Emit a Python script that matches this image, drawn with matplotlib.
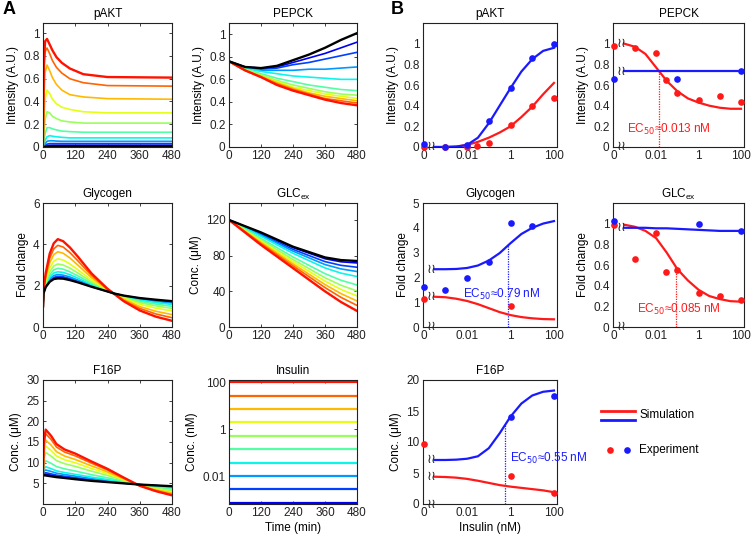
import numpy as np
import matplotlib
matplotlib.use('Agg')
import matplotlib.pyplot as plt
from matplotlib.lines import Line2D

plt.rcParams['font.family'] = ['Liberation Sans', 'DejaVu Sans']
plt.rcParams['font.size'] = 8.5

# ---------------- data ----------------
# insulin doses (nM), high -> low; the extra black curve in panel A is 0 nM
insulin_doses = [100, 26.8, 7.2, 1.93, 0.518, 0.139, 0.0373, 0.01, 0.00268, 0.00072]

# Panel A: time courses (rows: doses high->low, last row = 0 nM / black)
t_pakt = [0, 3, 8, 15, 25, 35, 50, 70, 100, 150, 240, 480]
pakt_A = [
    [0, 0.75, 0.93, 0.95, 0.90, 0.85, 0.79, 0.74, 0.69, 0.64, 0.615, 0.61],
    [0, 0.62, 0.84, 0.87, 0.82, 0.76, 0.70, 0.65, 0.60, 0.565, 0.54, 0.535],
    [0, 0.42, 0.66, 0.72, 0.67, 0.61, 0.55, 0.50, 0.46, 0.44, 0.425, 0.42],
    [0, 0.22, 0.42, 0.50, 0.47, 0.42, 0.38, 0.35, 0.33, 0.31, 0.30, 0.30],
    [0, 0.10, 0.24, 0.31, 0.30, 0.27, 0.25, 0.23, 0.22, 0.21, 0.21, 0.21],
    [0, 0.05, 0.12, 0.17, 0.17, 0.16, 0.15, 0.14, 0.135, 0.13, 0.13, 0.13],
    [0, 0.025, 0.06, 0.09, 0.10, 0.095, 0.09, 0.085, 0.08, 0.08, 0.08, 0.08],
    [0, 0.012, 0.03, 0.05, 0.055, 0.055, 0.052, 0.05, 0.05, 0.05, 0.05, 0.05],
    [0, 0.006, 0.015, 0.025, 0.03, 0.03, 0.03, 0.03, 0.03, 0.03, 0.03, 0.03],
    [0, 0.003, 0.008, 0.012, 0.015, 0.016, 0.016, 0.016, 0.016, 0.016, 0.016, 0.016],
    [0, 0.001, 0.002, 0.003, 0.004, 0.005, 0.005, 0.005, 0.005, 0.005, 0.005, 0.005],
]

t_pepck = [0, 60, 120, 180, 240, 300, 360, 420, 480]
pepck_A = [
    [0.76, 0.68, 0.62, 0.55, 0.50, 0.46, 0.42, 0.39, 0.37],
    [0.76, 0.68, 0.62, 0.56, 0.51, 0.47, 0.43, 0.41, 0.39],
    [0.76, 0.68, 0.63, 0.57, 0.52, 0.48, 0.45, 0.43, 0.41],
    [0.76, 0.68, 0.63, 0.58, 0.53, 0.50, 0.47, 0.45, 0.43],
    [0.76, 0.69, 0.64, 0.59, 0.55, 0.52, 0.49, 0.47, 0.46],
    [0.76, 0.69, 0.65, 0.61, 0.58, 0.55, 0.53, 0.51, 0.50],
    [0.76, 0.70, 0.67, 0.65, 0.63, 0.62, 0.61, 0.60, 0.60],
    [0.76, 0.70, 0.68, 0.68, 0.68, 0.69, 0.69, 0.70, 0.71],
    [0.76, 0.71, 0.69, 0.70, 0.73, 0.75, 0.78, 0.81, 0.84],
    [0.76, 0.71, 0.70, 0.71, 0.75, 0.79, 0.83, 0.88, 0.93],
    [0.76, 0.71, 0.70, 0.72, 0.77, 0.82, 0.88, 0.95, 1.01],
]

t_glyc = [0, 2, 10, 25, 40, 55, 75, 100, 130, 180, 240, 265, 300, 360, 420, 480]
glyc_A = [
    [1.0, 1.80, 2.60, 3.55, 4.05, 4.25, 4.15, 3.85, 3.40, 2.60, 1.85, 1.60, 1.25, 0.80, 0.50, 0.30],
    [1.0, 1.77, 2.50, 3.33, 3.78, 3.95, 3.87, 3.60, 3.20, 2.50, 1.83, 1.60, 1.29, 0.90, 0.63, 0.45],
    [1.0, 1.74, 2.40, 3.11, 3.50, 3.64, 3.57, 3.34, 2.99, 2.39, 1.81, 1.61, 1.34, 0.99, 0.76, 0.60],
    [1.0, 1.71, 2.27, 2.86, 3.18, 3.30, 3.24, 3.05, 2.77, 2.28, 1.79, 1.61, 1.39, 1.10, 0.91, 0.78],
    [1.0, 1.69, 2.18, 2.68, 2.95, 3.05, 3.00, 2.85, 2.61, 2.19, 1.77, 1.61, 1.42, 1.18, 1.02, 0.90],
    [1.0, 1.67, 2.10, 2.53, 2.76, 2.84, 2.80, 2.67, 2.47, 2.12, 1.75, 1.61, 1.45, 1.24, 1.11, 1.00],
    [1.0, 1.66, 2.04, 2.41, 2.61, 2.67, 2.64, 2.53, 2.36, 2.06, 1.74, 1.62, 1.47, 1.30, 1.18, 1.09],
    [1.0, 1.65, 1.99, 2.32, 2.49, 2.54, 2.51, 2.42, 2.27, 2.02, 1.73, 1.62, 1.49, 1.34, 1.24, 1.16],
    [1.0, 1.64, 1.96, 2.25, 2.40, 2.45, 2.43, 2.35, 2.21, 1.98, 1.73, 1.62, 1.51, 1.37, 1.28, 1.20],
    [1.0, 1.63, 1.94, 2.21, 2.35, 2.39, 2.37, 2.30, 2.18, 1.96, 1.72, 1.62, 1.51, 1.39, 1.30, 1.23],
    [1.0, 1.63, 1.93, 2.19, 2.32, 2.35, 2.34, 2.27, 2.16, 1.95, 1.72, 1.62, 1.52, 1.40, 1.32, 1.25],
]

t_glc = [0, 60, 120, 180, 240, 300, 360, 420, 480]
glc_A = [
    [120, 106.0, 92.0, 79.0, 66.0, 53.0, 40.0, 28.0, 18.0],
    [120, 106.8, 93.5, 81.1, 68.6, 56.4, 44.2, 33.2, 24.2],
    [120, 107.4, 94.8, 82.8, 70.8, 59.2, 47.6, 37.4, 29.2],
    [120, 108.1, 96.2, 84.7, 73.2, 62.3, 51.4, 42.1, 34.8],
    [120, 108.8, 97.6, 86.6, 75.6, 65.4, 55.2, 46.8, 40.4],
    [120, 109.6, 99.3, 88.9, 78.5, 69.1, 59.8, 52.4, 47.1],
    [120, 110.8, 101.7, 92.1, 82.6, 74.4, 66.2, 60.4, 56.6],
    [120, 111.5, 103.1, 94.0, 85.0, 77.5, 70.0, 65.1, 62.2],
    [120, 112.1, 104.3, 95.6, 87.0, 80.1, 73.3, 69.1, 67.0],
    [120, 112.7, 105.4, 97.2, 89.0, 82.8, 76.5, 73.1, 71.8],
    [120, 113.0, 106.0, 98.0, 90.0, 84.0, 78.0, 75.0, 74.0],
]

t_f16p = [0, 3, 10, 30, 50, 80, 120, 180, 240, 300, 360, 420, 480]
f16p_A = [
    [7.0, 15.00, 18.00, 16.50, 14.50, 13.20, 12.20, 10.30, 8.50, 6.40, 4.40, 3.10, 2.10],
    [7.0, 14.28, 17.00, 15.62, 13.78, 12.58, 11.64, 9.88, 8.21, 6.27, 4.43, 3.23, 2.30],
    [7.0, 13.15, 15.45, 14.25, 12.66, 11.61, 10.77, 9.22, 7.76, 6.08, 4.47, 3.42, 2.61],
    [7.0, 12.10, 14.00, 12.97, 11.62, 10.72, 9.97, 8.61, 7.35, 5.90, 4.51, 3.60, 2.89],
    [7.0, 10.98, 12.45, 11.60, 10.50, 9.75, 9.10, 7.95, 6.90, 5.70, 4.55, 3.80, 3.20],
    [7.0, 9.53, 10.45, 9.84, 9.06, 8.51, 7.98, 7.10, 6.32, 5.45, 4.60, 4.05, 3.60],
    [7.0, 8.48, 9.01, 8.56, 8.02, 7.61, 7.18, 6.49, 5.91, 5.27, 4.64, 4.23, 3.88],
    [7.0, 7.92, 8.23, 7.88, 7.46, 7.13, 6.74, 6.16, 5.68, 5.17, 4.66, 4.33, 4.04],
    [7.0, 7.43, 7.57, 7.29, 6.98, 6.71, 6.37, 5.88, 5.49, 5.08, 4.68, 4.42, 4.17],
    [7.0, 7.19, 7.23, 6.99, 6.74, 6.51, 6.19, 5.74, 5.40, 5.04, 4.69, 4.46, 4.23],
    [7.0, 6.95, 6.90, 6.70, 6.50, 6.30, 6.00, 5.60, 5.30, 5.00, 4.70, 4.50, 4.30],
]

t_insulin = [0, 480]

# Panel B: dose responses (concentrations in nM; 0 is drawn on the axis break)
sim_conc = [0.000316, 0.001, 0.00316, 0.01, 0.0316, 0.1, 0.316, 1, 3.16, 10, 31.6, 100]

pakt_sim_red = [0, 0, 0.005, 0.02, 0.05, 0.09, 0.14, 0.20, 0.29, 0.39, 0.51, 0.62]
pakt_sim_blue = [0, 0, 0.003, 0.02, 0.09, 0.23, 0.40, 0.57, 0.73, 0.85, 0.93, 0.96]
pakt_red_conc = [0, 0.001, 0.01, 0.03, 0.1, 1, 10, 100]
pakt_red_exp = [0.0, 0.0, 0.0, 0.005, 0.035, 0.21, 0.40, 0.47]
pakt_blue_conc = [0, 0.001, 0.01, 0.1, 1, 10, 100]
pakt_blue_exp = [0.03, 0.0, 0.02, 0.25, 0.57, 0.86, 1.0]

pepck_sim_red = [1.0, 0.97, 0.90, 0.77, 0.64, 0.54, 0.47, 0.43, 0.40, 0.38, 0.37, 0.37]
pepck_sim_blue = [0.735, 0.735, 0.735, 0.735, 0.735, 0.735, 0.735, 0.735, 0.735, 0.735, 0.735, 0.735]
pepck_red_conc = [0, 0.001, 0.01, 0.03, 0.1, 1, 10, 100]
pepck_red_exp = [0.98, 0.96, 0.91, 0.65, 0.52, 0.455, 0.49, 0.44]
pepck_blue_conc = [0, 0.1, 100]
pepck_blue_exp = [0.66, 0.655, 0.74]

glyc_sim_red = [1.22, 1.20, 1.14, 1.05, 0.92, 0.76, 0.60, 0.48, 0.40, 0.35, 0.32, 0.31]
glyc_sim_blue = [2.33, 2.33, 2.34, 2.38, 2.48, 2.68, 2.98, 3.38, 3.75, 4.00, 4.17, 4.27]
glyc_red_conc = [0, 1]
glyc_red_exp = [1.13, 0.83]
glyc_blue_conc = [0, 0.001, 0.01, 0.1, 1, 10]
glyc_blue_exp = [1.6, 1.5, 1.98, 2.62, 4.2, 4.06]

glc_sim_red = [0.99, 0.97, 0.93, 0.86, 0.72, 0.56, 0.45, 0.36, 0.30, 0.27, 0.25, 0.245]
glc_sim_blue = [0.96, 0.96, 0.96, 0.955, 0.955, 0.95, 0.945, 0.94, 0.935, 0.93, 0.93, 0.93]
glc_red_conc = [0, 0.001, 0.01, 0.03, 0.1, 1, 10, 100]
glc_red_exp = [0.99, 0.66, 0.91, 0.53, 0.55, 0.33, 0.30, 0.265]
glc_blue_conc = [0, 1, 100]
glc_blue_exp = [1.03, 1.0, 0.93]

f16p_sim_red = [4.4, 4.35, 4.25, 4.05, 3.75, 3.4, 3.05, 2.8, 2.6, 2.4, 2.2, 1.9]
f16p_sim_blue = [7.1, 7.1, 7.15, 7.3, 7.7, 9.0, 11.4, 14.1, 16.2, 17.5, 18.1, 18.3]
f16p_red_conc = [0, 1, 100]
f16p_red_exp = [9.6, 4.5, 1.8]
f16p_blue_conc = [1, 100]
f16p_blue_exp = [14.1, 17.4]

ec50_pepck = 0.013
ec50_glyc = 0.79
ec50_glc = 0.085
ec50_f16p = 0.55

# ---------------- figure ----------------
W, H = 754, 540
fig = plt.figure(figsize=(W / 100, H / 100), dpi=100)

def add_ax(x0, y0, x1, y1):
    return fig.add_axes([x0 / W, 1 - y1 / H, (x1 - x0) / W, (y1 - y0) / H])

cols = {'A1': (43, 172), 'A2': (229, 357), 'B1': (423, 557), 'B2': (613, 744)}
rows = [(23, 147), (203, 327), (380, 504)]

RED = '#ff1a1a'
BLUE = '#1a1aff'
dose_colors = [plt.cm.jet(v) for v in np.linspace(0.89, 0.10, len(insulin_doses))] + ['black']

def style(ax, ticklen=2.5):
    for s in ax.spines.values():
        s.set_linewidth(0.8)
        s.set_color('#222222')
    ax.tick_params(direction='in', length=ticklen, width=0.6, top=True, right=True,
                   labelsize=8.5, pad=2.5, colors='#222222')
    ax.tick_params(which='minor', length=0)

fmt = lambda v, p: ('%g' % v)

def panel_A(ax, t, data, title, ylabel, ylim, yticks):
    n = len(data)
    order = list(range(n - 2, -1, -1)) + [n - 1]
    for k in order:
        lw = 1.7 if k in (0, n - 1) else 1.2
        ax.plot(t, data[k], color=dose_colors[k], lw=lw, solid_joinstyle='round')
    ax.set_xlim(0, 480)
    ax.set_xticks([0, 120, 240, 360, 480])
    ax.set_ylim(*ylim)
    ax.set_yticks(yticks)
    ax.yaxis.set_major_formatter(plt.FuncFormatter(fmt))
    ax.set_title(title, fontsize=8.5, pad=4)
    ax.set_ylabel(ylabel, fontsize=8.5, labelpad=3)
    style(ax)

ax = add_ax(cols['A1'][0], rows[0][0], cols['A1'][1], rows[0][1])
panel_A(ax, t_pakt, pakt_A, 'pAKT', 'Intensity (A.U.)', (0, 1.09), [0, 0.2, 0.4, 0.6, 0.8, 1])
ax = add_ax(cols['A2'][0], rows[0][0], cols['A2'][1], rows[0][1])
panel_A(ax, t_pepck, pepck_A, 'PEPCK', 'Intensity (A.U.)', (0, 1.1), [0, 0.2, 0.4, 0.6, 0.8, 1])
ax = add_ax(cols['A1'][0], rows[1][0], cols['A1'][1], rows[1][1])
panel_A(ax, t_glyc, glyc_A, 'Glycogen', 'Fold change', (0, 6), [0, 2, 4, 6])
ax = add_ax(cols['A2'][0], rows[1][0], cols['A2'][1], rows[1][1])
panel_A(ax, t_glc, glc_A, 'GLC$_{\\mathregular{ex}}$', 'Conc. (μM)', (0, 139), [0, 40, 80, 120])
ax = add_ax(cols['A1'][0], rows[2][0], cols['A1'][1], rows[2][1])
panel_A(ax, t_f16p, f16p_A, 'F16P', 'Conc. (μM)', (0, 30), [5, 10, 15, 20, 25, 30])

# Insulin input panel
ax = add_ax(cols['A2'][0], rows[2][0], cols['A2'][1], rows[2][1])
for k, d in enumerate(insulin_doses):
    ax.plot(t_insulin, [d, d], color=dose_colors[k], lw=1.6, solid_capstyle='butt')
ax.set_yscale('log')
ax.set_xlim(0, 480)
ax.set_ylim(6.4e-4, 125)
ax.set_xticks([0, 120, 240, 360, 480])
ax.set_yticks([0.01, 1, 100])
ax.set_yticklabels(['0.01', '1', '100'])
ax.yaxis.set_minor_locator(matplotlib.ticker.NullLocator())
ax.set_title('Insulin', fontsize=8.5, pad=4)
ax.set_ylabel('Conc. (nM)', fontsize=8.5, labelpad=3)
ax.set_xlabel('Time (min)', fontsize=8.5, labelpad=2)
style(ax)

# Panel B
def xpos(c):
    c = np.asarray(c, dtype=float)
    return np.where(c > 0, np.log10(np.where(c > 0, c, 1)), -4.0)

def brk(ax, x, y):
    ax.text(x, y, '≀≀', family='DejaVu Sans', fontsize=9.5, ha='center', va='center',
            color='#222222', clip_on=False, zorder=5)

def panel_B(ax, title, ylabel, ylim, yticks, red_sim, blue_sim, rc, re, bc, be,
            ec50=None, ec_color=None, ec_text_xy=None, curve_breaks=('red', 'blue')):
    xs = xpos(sim_conc)
    ax.plot(xs, red_sim, color=RED, lw=1.6, zorder=3)
    ax.plot(xs, blue_sim, color=BLUE, lw=1.6, zorder=3)
    ax.plot(xpos(rc), re, 'o', color=RED, ms=4.8, mec='none', clip_on=False, zorder=4)
    ax.plot(xpos(bc), be, 'o', color=BLUE, ms=4.8, mec='none', clip_on=False, zorder=4)
    bx = xs[0] - 0.13
    brk(ax, bx, ylim[0])
    if 'red' in curve_breaks:
        brk(ax, bx, red_sim[0])
    if 'blue' in curve_breaks:
        brk(ax, bx, blue_sim[0])
    if ec50 is not None:
        lx = np.log10(ec50)
        curve = red_sim if ec_color == 'red' else blue_sim
        top = np.interp(lx, xs, curve)
        col = RED if ec_color == 'red' else BLUE
        ax.plot([lx, lx], [ylim[0], top], ls=(0, (1, 1)), color=col, lw=0.9, zorder=2)
        ax.text(ec_text_xy[0], ec_text_xy[1], 'EC$_{50}$≈%g nM' % ec50, color=col,
                fontsize=8.5, ha='left', va='center', clip_on=False, zorder=6)
    ax.set_xlim(-4.03, 2.14)
    ax.set_xticks([-4, -2, 0, 2])
    ax.set_xticklabels(['0', '0.01', '1', '100'])
    ax.set_ylim(*ylim)
    ax.set_yticks(yticks)
    ax.yaxis.set_major_formatter(plt.FuncFormatter(fmt))
    ax.set_title(title, fontsize=8.5, pad=4)
    ax.set_ylabel(ylabel, fontsize=8.5, labelpad=3)
    style(ax, ticklen=0)

ax = add_ax(cols['B1'][0], rows[0][0], cols['B1'][1], rows[0][1])
panel_B(ax, 'pAKT', 'Intensity (A.U.)', (0, 1.2), [0, 0.2, 0.4, 0.6, 0.8, 1],
        pakt_sim_red, pakt_sim_blue, pakt_red_conc, pakt_red_exp, pakt_blue_conc, pakt_blue_exp,
        curve_breaks=())
ax = add_ax(cols['B2'][0], rows[0][0], cols['B2'][1], rows[0][1])
panel_B(ax, 'PEPCK', 'Intensity (A.U.)', (0, 1.2), [0, 0.2, 0.4, 0.6, 0.8, 1],
        pepck_sim_red, pepck_sim_blue, pepck_red_conc, pepck_red_exp, pepck_blue_conc, pepck_blue_exp,
        ec50=ec50_pepck, ec_color='red', ec_text_xy=(-3.38, 0.17))
ax = add_ax(cols['B1'][0], rows[1][0], cols['B1'][1], rows[1][1])
panel_B(ax, 'Glycogen', 'Fold change', (0, 5), [0, 1, 2, 3, 4, 5],
        glyc_sim_red, glyc_sim_blue, glyc_red_conc, glyc_red_exp, glyc_blue_conc, glyc_blue_exp,
        ec50=ec50_glyc, ec_color='blue', ec_text_xy=(-2.19, 1.33))
ax = add_ax(cols['B2'][0], rows[1][0], cols['B2'][1], rows[1][1])
panel_B(ax, 'GLC$_{\\mathregular{ex}}$', 'Fold change', (0, 1.2), [0, 0.2, 0.4, 0.6, 0.8, 1],
        glc_sim_red, glc_sim_blue, glc_red_conc, glc_red_exp, glc_blue_conc, glc_blue_exp,
        ec50=ec50_glc, ec_color='red', ec_text_xy=(-2.88, 0.17), curve_breaks=('blue',))
ax = add_ax(cols['B1'][0], rows[2][0], cols['B1'][1], rows[2][1])
panel_B(ax, 'F16P', 'Conc. (μM)', (0, 20), [0, 5, 10, 15, 20],
        f16p_sim_red, f16p_sim_blue, f16p_red_conc, f16p_red_exp, f16p_blue_conc, f16p_blue_exp,
        ec50=ec50_f16p, ec_color='blue', ec_text_xy=(-0.03, 7.3))
ax.set_xlabel('Insulin (nM)', fontsize=8.5, labelpad=2)

# Legend
def fx(x): return x / W
def fy(y): return 1 - y / H
fig.add_artist(Line2D([fx(601), fx(635)], [fy(411), fy(411)], color=RED, lw=2))
fig.add_artist(Line2D([fx(601), fx(635)], [fy(420), fy(420)], color=BLUE, lw=2))
fig.text(fx(639), fy(414.5), 'Simulation', fontsize=8.5, va='center', ha='left')
fig.add_artist(Line2D([fx(610)], [fy(450)], marker='o', color=RED, ms=4.8, mec='none', ls='none'))
fig.add_artist(Line2D([fx(627)], [fy(450)], marker='o', color=BLUE, ms=4.8, mec='none', ls='none'))
fig.text(fx(639), fy(450), 'Experiment', fontsize=8.5, va='center', ha='left')

# Panel letters
fig.text(fx(3), fy(10), 'A', fontsize=13, fontweight='bold', va='center', ha='left')
fig.text(fx(391), fy(10), 'B', fontsize=13, fontweight='bold', va='center', ha='left')

fig.savefig('out.png', dpi=100)
